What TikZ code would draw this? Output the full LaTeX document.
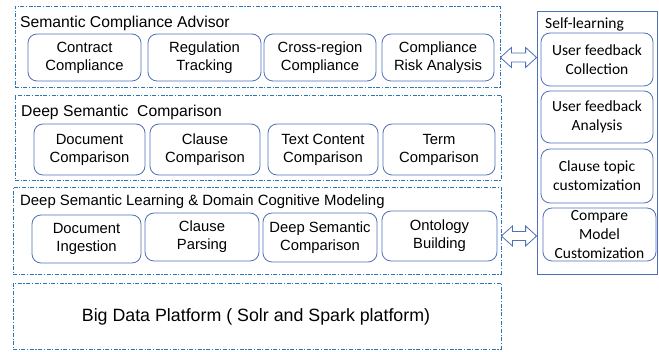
\documentclass[tikz,border=0pt]{standalone}
\usepackage{fontspec}
\setmainfont{Liberation Sans}
\newfontfamily\calfont{Carlito}
\usepackage{tikz}
\usetikzlibrary{arrows.meta,positioning,calc}
\definecolor{layerblue}{RGB}{46,117,182}
\definecolor{boxblue}{RGB}{79,112,184}
\tikzset{
  layer/.style={draw=layerblue, line width=0.8pt, dash pattern=on 4pt off 1.6pt on 1.2pt off 1.6pt, inner sep=0pt},
  module/.style={draw=boxblue, line width=0.8pt, rounded corners=9pt, align=center, inner sep=0pt,
                 font=\fontsize{14.8}{18}\selectfont},
  sidebox/.style={module, font=\calfont\fontsize{15.5}{19}\selectfont},
  ttl/.style={anchor=west, inner sep=0pt, font=\fontsize{15.7}{18}\selectfont},
  twoway/.style={draw=boxblue, line width=0.8pt, fill=white, line join=miter}
}
\begin{document}
\begin{tikzpicture}[x=1pt, y=-1pt]
  \useasboundingbox (0,0) rectangle (659,352);
  % --- Layers ---
  \node[layer, minimum width=485pt, minimum height=81pt] (advisor) at (257.5,46.5) {};
  \node[layer, minimum width=486pt, minimum height=85pt] (compare) at (258,137.5) {};
  \node[layer, minimum width=488pt, minimum height=87pt] (learning) at (257,230.5) {};
  \node[layer, minimum width=488pt, minimum height=66pt] (platform) at (257,316) {};

  \node[ttl] (advisorttl) at (20,23) {Semantic Compliance Advisor};
  \node[ttl] (comparettl) at (21,112) {Deep Semantic~~Comparison};
  \node[ttl, font=\fontsize{14.9}{18}\selectfont] (learningttl) at (20,202)
    {Deep Semantic Learning \& Domain Cognitive Modeling};
  \node[font=\fontsize{17.8}{20}\selectfont] (platformtxt) at (256,317)
    {Big Data Platform ( Solr and Spark platform)};

  % --- Semantic Compliance Advisor ---
  \node[module, minimum width=113pt, minimum height=47pt] (contract) at (84.5,57.5) {Contract\\Compliance};
  \node[module, minimum width=113pt, minimum height=47pt] (regulation) at (204.5,57.5) {Regulation\\Tracking};
  \node[module, minimum width=112pt, minimum height=47pt] (crossregion) at (320,57.5) {Cross-region\\Compliance};
  \node[module, minimum width=112pt, minimum height=47pt] (risk) at (438,57.5) {Compliance\\Risk Analysis};

  % --- Deep Semantic Comparison ---
  \node[module, minimum width=111pt, minimum height=51pt] (doccmp) at (89.5,149.5) {Document\\Comparison};
  \node[module, minimum width=110pt, minimum height=51pt] (clausecmp) at (205,149.5) {Clause\\Comparison};
  \node[module, minimum width=110pt, minimum height=51pt] (textcmp) at (323,149.5) {Text Content\\Comparison};
  \node[module, minimum width=112pt, minimum height=51pt] (termcmp) at (439,149.5) {Term\\Comparison};

  % --- Learning & Modeling ---
  \node[module, minimum width=109pt, minimum height=48pt] (ingest) at (86.5,239) {Document\\Ingestion};
  \node[module, minimum width=114pt, minimum height=48pt] (parsing) at (202,237) {Clause\\Parsing};
  \node[module, minimum width=114pt, minimum height=49pt] (deepcmp) at (320,237.5) {Deep Semantic\\Comparison};
  \node[module, minimum width=115pt, minimum height=50pt] (ontology) at (439.5,236) {Ontology\\Building};

  % --- Self-learning ---
  \node[draw=boxblue, line width=0.8pt, minimum width=120pt, minimum height=263pt, inner sep=0pt] (self) at (597,142.5) {};
  \node[ttl, font=\calfont\fontsize{15.5}{18}\selectfont] (selfttl) at (545,24) {Self-learning};
  \node[sidebox, minimum width=112pt, minimum height=53pt] (collect) at (597,59.5) {User feedback\\Collection};
  \node[sidebox, minimum width=112pt, minimum height=52pt] (analysis) at (597,117) {User feedback\\Analysis};
  \node[sidebox, minimum width=112pt, minimum height=54pt] (topic) at (597,176) {Clause topic\\customization};
  \node[sidebox, minimum width=113pt, minimum height=53pt] (custom) at (599.5,234.5) {Compare\\Model\\Customization};

  % --- Two-way arrows ---
  \coordinate (upl) at (risk.east -| advisor.east);
  \coordinate (upr) at (risk.east -| self.west);
  \coordinate (lowl) at (ontology.east -| learning.east);
  \coordinate (lowr) at (ontology.east -| self.west);
  \foreach \l/\r in {upl/upr, lowl/lowr}{
    \draw[twoway] (\l) -- ++(11,-10) -- ++(0,5.5) -- ($(\r)+(-11,-4.5)$) -- ++(0,-5.5)
      -- (\r) -- ++(-11,10) -- ++(0,-5.5) -- ($(\l)+(11,4.5)$) -- ++(0,5.5) -- cycle;
  }
\end{tikzpicture}
\end{document}
